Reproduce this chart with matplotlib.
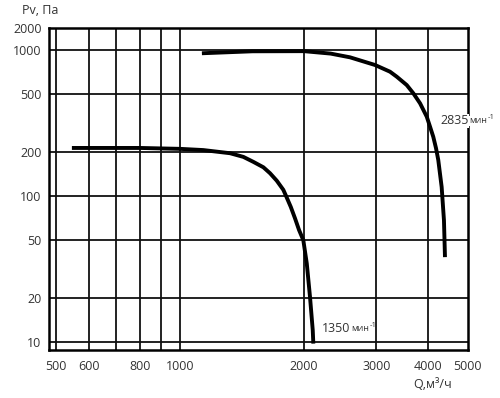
import numpy as np
import matplotlib
matplotlib.use('Agg')
import matplotlib.pyplot as plt

plt.rcParams['font.family'] = ['Open Sans', 'DejaVu Sans']

# характеристики вентилятора (Q, м3/ч ; Pv, Па)
q_1350 = [546, 800, 1000, 1139, 1323, 1425, 1507, 1594, 1654, 1718, 1782, 1809, 1858, 1903, 1946, 1993,
          2032, 2069, 2101, 2108]
p_1350 = [213, 213, 210, 206, 196, 185, 171, 157, 143, 127, 110, 100, 84, 70, 58.3, 49.7,
          34.4, 20.3, 12.0, 9.7]

q_2835 = [1130, 1500, 2000, 2322, 2588, 2978, 3237, 3362, 3555, 3688, 3830, 3976, 4050, 4124, 4188,
          4241, 4322, 4378, 4403]
p_2835 = [950, 980, 982, 945, 891, 789, 710, 656, 575, 505, 431, 349, 298, 254, 212,
          176, 115, 68, 38]

x_grid = [500, 600, 700, 800, 900, 1000, 2000, 3000, 4000]
x_ticks = [500, 600, 800, 1000, 2000, 3000, 4000, 5000]
x_labels = ['500', '600', '800', '1000', '2000', '3000', '4000', '5000']
y_grid = [10, 20, 50, 100, 200, 500, 1000]
y_top = 1415
y_ticks = [10, 20, 50, 100, 200, 500, 1000, y_top]
y_labels = ['10', '20', '50', '100', '200', '500', '1000', '2000']

fig = plt.figure(figsize=(5, 3.98), dpi=100)
ax = fig.add_axes([0.097, 0.1206, 0.8384, 0.809])
ax.set_xscale('log')
ax.set_yscale('log')
ax.set_xlim(479, 5000)
ax.set_ylim(8.77, y_top)

for x in x_grid:
    ax.axvline(x, color='#111111', lw=1.3, zorder=1)
for y in y_grid:
    ax.axhline(y, color='#111111', lw=1.3, zorder=1)

ax.plot(q_1350, p_1350, color='black', lw=2.8, solid_capstyle='butt', solid_joinstyle='round', zorder=3)
ax.plot(q_2835, p_2835, color='black', lw=2.8, solid_capstyle='butt', solid_joinstyle='round', zorder=3)

ax.xaxis.set_minor_locator(matplotlib.ticker.NullLocator())
ax.yaxis.set_minor_locator(matplotlib.ticker.NullLocator())
ax.set_xticks(x_ticks)
ax.set_xticklabels(x_labels)
ax.set_yticks(y_ticks)
ax.set_yticklabels(y_labels)
ax.tick_params(length=0, labelsize=9, colors='#333333', pad=7)
ax.tick_params(axis='y', pad=5)
for s in ax.spines.values():
    s.set_linewidth(1.8)
    s.set_color('black')

fig.text(22/500, 1-10/398, 'Pv, Па', fontsize=9, color='#333333', va='center', ha='left')
fig.text(413/500, 1-384/398, 'Q,м³/ч', fontsize=9, color='#333333', va='center', ha='left')


def add_label(x, y, num):
    t = ax.annotate(num, xy=(x/500, 1-y/398), xycoords='figure fraction', fontsize=9,
                    color='#333333', va='center', ha='left',
                    bbox=dict(facecolor='white', edgecolor='none', pad=0.6), zorder=10,
                    annotation_clip=False)
    m = ax.annotate('мин', xy=(1, 0), xycoords=t, xytext=(0.5, 1.5), textcoords='offset points',
                    fontsize=6.5, color='#333333', va='bottom', ha='left',
                    bbox=dict(facecolor='white', edgecolor='none', pad=0.6), zorder=10,
                    annotation_clip=False)
    ax.annotate('-1', xy=(1, 1), xycoords=m, xytext=(0.5, 1.5), textcoords='offset points',
                fontsize=5.5, color='#333333', va='top', ha='left', zorder=10,
                annotation_clip=False)

add_label(440, 121, '2835')
add_label(322, 329, '1350')

fig.savefig('out.png', dpi=100)
